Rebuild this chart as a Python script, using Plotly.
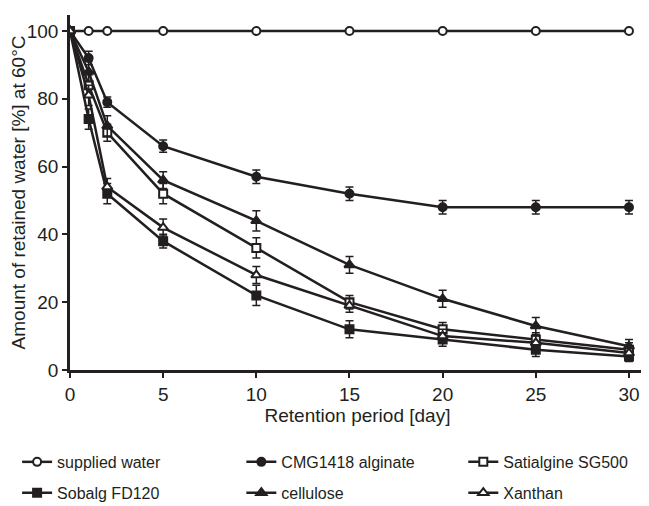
import plotly.graph_objects as go

days = [0, 1, 2, 5, 10, 15, 20, 25, 30]
supplied_water = [100, 100, 100, 100, 100, 100, 100, 100, 100]
cmg1418_alginate = [100, 92, 79, 66, 57, 52, 48, 48, 48]
satialgine_sg500 = [100, 84, 70, 52, 36, 20, 12, 9, 6]
sobalg_fd120 = [100, 74, 52, 38, 22, 12, 9, 6, 4]
cellulose = [100, 88, 72, 56, 44, 31, 21, 13, 7]
xanthan = [100, 81, 54, 42, 28, 19, 10, 8, 5]

err_supplied = [0, 0, 0, 0, 0, 0, 0, 0, 0]
err_cmg = [0, 2, 1.5, 1.8, 2, 2, 2, 2, 2]
err_sat = [0, 3, 2.5, 3, 3, 2, 2, 2, 2]
err_sob = [0, 3, 3, 2, 3, 2.5, 2, 2, 1.5]
err_cel = [0, 3, 3, 2.5, 3, 2.5, 2.5, 2.5, 2]
err_xan = [0, 3, 2.5, 2.5, 2.5, 2, 2, 2, 2]

C = "#231f20"

series = [
    ("supplied water", supplied_water, err_supplied, "circle-open"),
    ("CMG1418 alginate", cmg1418_alginate, err_cmg, "circle"),
    ("Satialgine SG500", satialgine_sg500, err_sat, "square-open"),
    ("Sobalg FD120", sobalg_fd120, err_sob, "square"),
    ("cellulose", cellulose, err_cel, "triangle-up"),
    ("Xanthan", xanthan, err_xan, "triangle-up-open"),
]

# legend grid: 3 columns x 2 rows below the axis
leg_cols = [-0.092, 0.298, 0.684]
leg_rows = [-0.259, -0.346]

fig = go.Figure()
layout_legends = {}
for i, (name, vals, err, sym) in enumerate(series):
    is_open = sym.endswith("open")
    leg = "legend" if i == 0 else f"legend{i + 1}"
    fig.add_trace(go.Scatter(
        x=days, y=vals, name=name, mode="lines+markers",
        line=dict(color=C, width=2.5),
        marker=dict(symbol=sym.replace("-open", ""), size=9 if "triangle" in sym else 8,
                    color="white" if is_open else C,
                    line=dict(color=C, width=2)),
        error_y=dict(type="data", array=err, visible=True, color=C, thickness=1.5, width=4),
        legend=leg,
    ))
    layout_legends[leg] = dict(
        x=leg_cols[i % 3], xanchor="left", y=leg_rows[i // 3], yanchor="middle",
        orientation="h", font=dict(size=16, color=C), bgcolor="rgba(0,0,0,0)",
        itemwidth=30,
    )

fig.update_layout(
    width=641, height=498,
    margin=dict(l=62, r=4, t=7, b=136, autoexpand=False),
    paper_bgcolor="white", plot_bgcolor="white",
    font=dict(family="Liberation Sans, Arial, sans-serif", size=16, color=C),
    showlegend=True,
    xaxis=dict(range=[0, 30.86], tickvals=[0, 5, 10, 15, 20, 25, 30],
               showline=True, linecolor=C, linewidth=2.5, ticks="outside",
               tickcolor=C, ticklen=5, tickwidth=2, showgrid=False, zeroline=False,
               automargin=False,
               title=dict(text="Retention period [day]", standoff=5),
               tickfont=dict(size=19)),
    yaxis=dict(range=[0, 104.7], tickvals=[0, 20, 40, 60, 80, 100],
               showline=True, linecolor=C, linewidth=2.5, ticks="outside",
               tickcolor=C, ticklen=5, tickwidth=2, showgrid=False, zeroline=False,
               automargin=True,
               title=dict(text="Amount of retained water [%] at 60°C", standoff=4),
               tickfont=dict(size=19)),
    **layout_legends,
)

fig.write_html("out.html")
